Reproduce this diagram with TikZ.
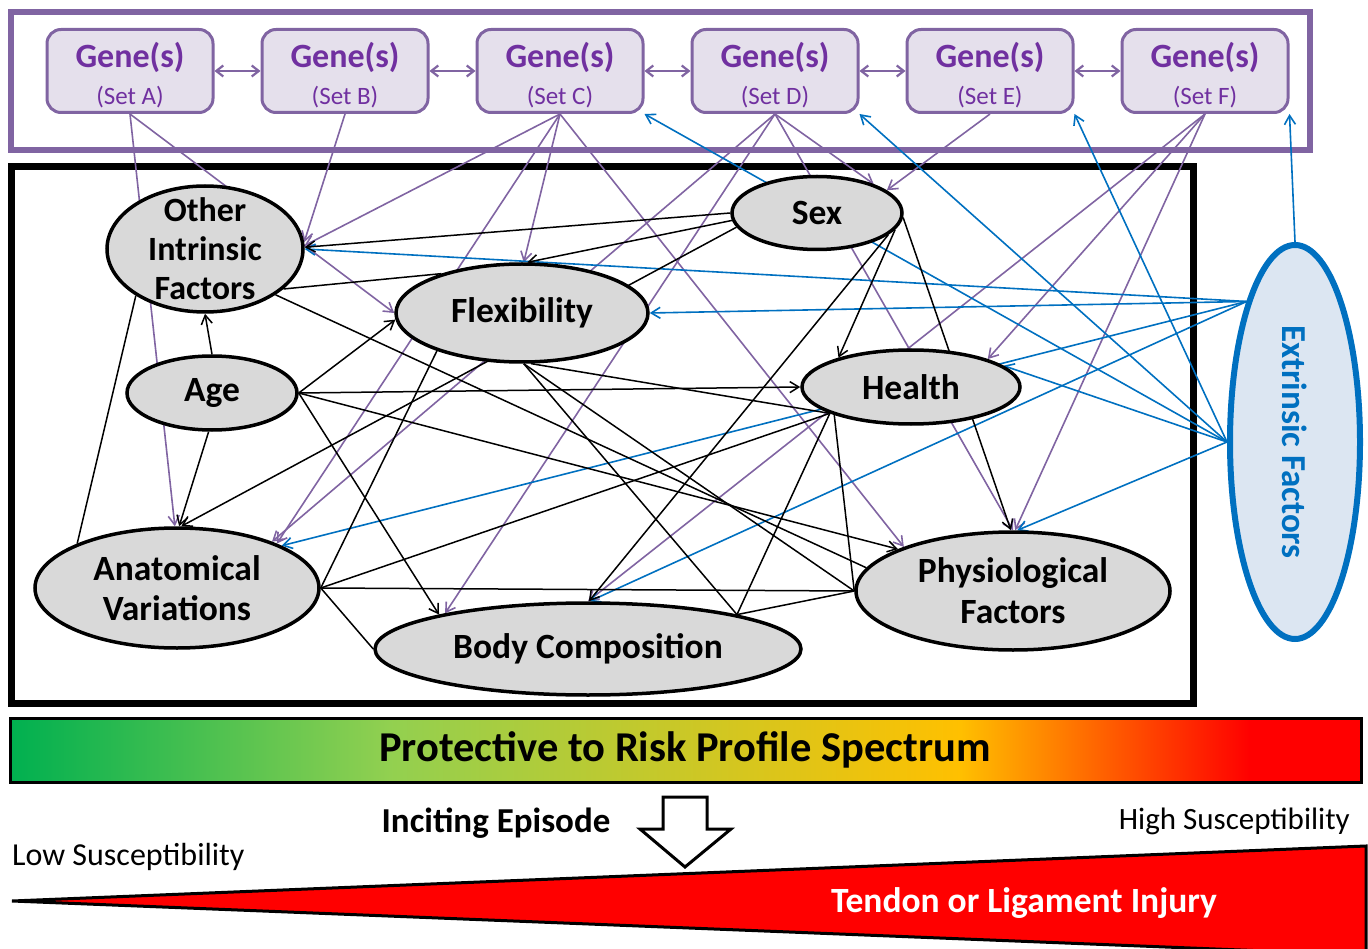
\documentclass[tikz,border=0pt]{standalone}
\usepackage{fontspec}
\setmainfont{Carlito}
\usetikzlibrary{shapes.geometric,arrows.meta}
\definecolor{fpurple}{HTML}{8064A2}
\definecolor{gtext}{HTML}{7030A0}
\definecolor{gfill}{HTML}{E5E0EC}
\definecolor{lblue}{HTML}{0070C0}
\definecolor{egray}{HTML}{D9D9D9}
\definecolor{efill}{HTML}{DCE6F2}
\definecolor{sgreen}{HTML}{00B050}
\definecolor{slgreen}{HTML}{92D050}
\definecolor{syellow}{HTML}{FFC000}
\definecolor{sred}{HTML}{FF0000}
\pgfdeclarelayer{back}
\pgfdeclarelayer{mid}
\pgfsetlayers{back,mid,main}
\tikzset{
  factor/.style={ellipse, draw=black, line width=3.5pt, fill=egray, inner xsep=0pt, inner ysep=-16pt, align=center, font=\fontsize{35.5}{39}\selectfont\bfseries},
  genebox/.style={rectangle, rounded corners=14pt, draw=fpurple, line width=3pt, fill=gfill, minimum width=166pt, minimum height=83pt, align=center, text=gtext, inner sep=0pt, font=\fontsize{25}{37}\selectfont},
  parr/.style={draw=fpurple, line width=1.6pt, -{Straight Barb[length=9pt,width=11pt]}},
  barr/.style={draw=lblue, line width=1.6pt, -{Straight Barb[length=9pt,width=11pt]}},
  karr/.style={draw=black, line width=1.5pt, -{Straight Barb[length=9pt,width=11pt]}},
  kline/.style={draw=black, line width=1.5pt},
  dblarr/.style={draw=fpurple, line width=2.2pt, {Straight Barb[length=7pt,width=11pt]}-{Straight Barb[length=7pt,width=11pt]}},
  txt/.style={inner sep=0pt}
}
\begin{document}
\begin{tikzpicture}[x=1pt,y=-1pt]
\useasboundingbox (0,0) rectangle (1368,949);
% frames
\begin{pgfonlayer}{back}
\draw[fpurple, line width=6pt] (11,12) rectangle (1310,150);
\draw[black, line width=7pt] (11,167) rectangle (1193,703);
\end{pgfonlayer}
% gene boxes
\foreach \n/\x/\s in {gA/130/A,gB/345/B,gC/560/C,gD/775/D,gE/990/E,gF/1205/F}{
  \node[genebox] (\n) at (\x,71) {{\fontsize{34}{34}\selectfont\bfseries\rule{0pt}{33pt}Gene(s)}\\(Set \s)};
}
% factors
\node[factor, minimum width=196pt, minimum height=126pt, font=\fontsize{34}{39}\selectfont\bfseries] (oth) at (205,249) {Other\\Intrinsic\\Factors};
\node[factor, minimum width=170pt, minimum height=74pt] (age) at (212,393) {Age};
\node[factor, minimum width=252pt, minimum height=98pt] (flex) at (522,313) {Flexibility};
\node[factor, minimum width=170pt, minimum height=73pt] (sex) at (817,213) {Sex};
\node[factor, minimum width=218pt, minimum height=74pt] (hea) at (911,387) {Health};
\node[factor, minimum width=284pt, minimum height=120pt, font=\fontsize{35.5}{40}\selectfont\bfseries] (anat) at (177,588) {Anatomical\\Variations};
\node[factor, minimum width=426pt, minimum height=92pt] (body) at (588,649) {Body Composition};
\node[factor, minimum width=314pt, minimum height=118pt, font=\fontsize{35.5}{41}\selectfont\bfseries] (phys) at (1013,591) {Physiological\\Factors};
\node[ellipse, draw=lblue, line width=6pt, fill=efill, minimum width=130pt, minimum height=394pt, inner sep=0pt] (ext) at (1295,442) {};
\node[txt, rotate=-90, text=lblue, font=\fontsize{35}{35}\selectfont\bfseries] (extT) at (ext.center) {Extrinsic Factors};

\begin{pgfonlayer}{mid}
% gene double arrows
\draw[dblarr] (gA.east) -- (gB.west);
\draw[dblarr] (gB.east) -- (gC.west);
\draw[dblarr] (gC.east) -- (gD.west);
\draw[dblarr] (gD.east) -- (gE.west);
\draw[dblarr] (gE.east) -- (gF.west);
% purple gene links
\draw[parr] (gA.south) -- (anat.92);
\draw[parr] (gA.south) -- (flex.180);
\draw[parr] (gB.south) -- (oth.4);
\draw[parr] (gC.south) -- (oth.2);
\draw[parr] (gC.south) -- (flex.88);
\draw[parr] (gC.south) -- (anat.24);
\draw[parr] (gC.south) -- (phys.158);
\draw[parr] (gD.south) -- (anat.26);
\draw[parr] (gD.south) -- (body.166);
\draw[parr] (gD.south) -- (phys.90);
\draw[parr] (gD.south) -- (sex.27);
\draw[parr] (gE.south) -- (sex.18);
\draw[parr] (gF.south) -- (hea.20);
\draw[parr] (gF.south) -- (body.90);
\draw[parr] (gF.south) -- (phys.88);
% blue extrinsic links
\draw[barr] (ext.109) -- (oth.0);
\draw[barr] (ext.109) -- (flex.0);
\draw[barr] (ext.109) -- (anat.22);
\draw[barr] (ext.109) -- (body.88);
\draw[barr] (ext.west) -- (hea.13);
\draw[barr] (ext.west) -- (gC.south east);
\draw[barr] (ext.west) -- (gD.south east);
\draw[barr] (ext.west) -- (gE.south east);
\draw[barr] (ext.north) -- (gF.south east);
\draw[barr] (ext.west) -- (phys.86);
% black arrows
\draw[karr] (age.north) -- (oth.south);
\draw[karr] (age.265) -- (anat.88);
\draw[karr] (age.east) -- (flex.183);
\draw[karr] (age.east) -- (hea.west);
\draw[karr] (age.east) -- (body.167);
\draw[karr] (age.east) -- (phys.160);
\draw[karr] (sex.180) -- (oth.1);
\draw[karr] (sex.185) -- (flex.84);
\draw[karr] (sex.190) -- (anat.86);
\draw[karr] (sex.348) -- (hea.158);
\draw[karr] (sex.343) -- (body.89);
\draw[karr] (sex.357) -- (phys.92);
% black plain links
\draw[kline] (oth.214) -- (anat.156);
\draw[kline] (oth.333) -- (flex.154);
\draw[kline] (oth.327) -- (phys.171);
\draw[kline] (flex.204) -- (anat.east);
\draw[kline] (anat.east) -- (hea.198);
\draw[kline] (anat.east) -- (phys.west);
\draw[kline] (anat.east) -- (body.west);
\draw[kline] (flex.272) -- (body.13);
\draw[kline] (flex.272) -- (phys.west);
\draw[kline] (flex.280) -- (hea.198);
\draw[kline] (hea.198) -- (body.13);
\draw[kline] (hea.200) -- (phys.west);
\draw[kline] (body.13) -- (phys.west);
\end{pgfonlayer}

% spectrum bar
\shade[left color=sgreen, right color=slgreen] (10,718) rectangle (390,782);
\shade[left color=slgreen, right color=syellow] (389,718) rectangle (960,782);
\shade[left color=syellow, right color=sred] (959,718) rectangle (1250,782);
\fill[sred] (1249,718) rectangle (1361,782);
\draw[black, line width=3pt] (10,718) rectangle (1361,782);
\node[txt, font=\fontsize{42.5}{42.5}\selectfont\bfseries] (spec) at (685,750) {Protective to Risk Profile Spectrum};
% inciting arrow
\draw[black, line width=3pt, fill=white, line join=miter] (663,797) -- (707,797) -- (707,829) -- (731,829) -- (685,867) -- (640,829) -- (663,829) -- cycle;
\node[txt, font=\fontsize{35}{35}\selectfont\bfseries] (incite) at (496,823) {Inciting Episode};
\node[txt, anchor=east, font=\fontsize{31}{31}\selectfont] (high) at (1350,821) {High Susceptibility};
\node[txt, anchor=west, font=\fontsize{32}{32}\selectfont] (low) at (12,857) {Low Susceptibility};
% injury wedge
\draw[black, line width=3pt, fill=sred, line join=miter] (12,901) -- (1366,846) -- (1366,955) -- cycle;
\node[txt, text=white, font=\fontsize{35.5}{35.5}\selectfont\bfseries] (tend) at (1024,903) {Tendon or Ligament Injury};
\end{tikzpicture}
\end{document}
